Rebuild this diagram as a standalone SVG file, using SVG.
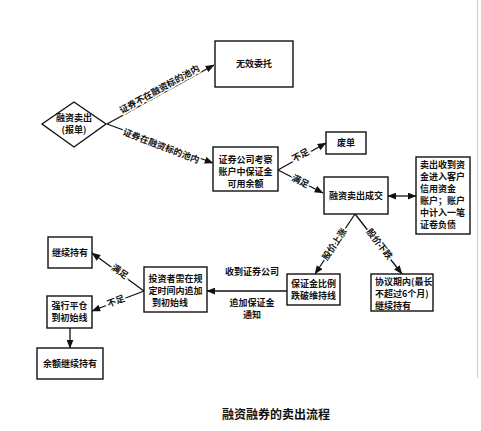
<svg xmlns="http://www.w3.org/2000/svg" width="481" height="431" viewBox="0 0 481 431">
<defs>
<marker id="ah" viewBox="0 0 10 8" refX="9.5" refY="4" markerWidth="9" markerHeight="7" markerUnits="userSpaceOnUse" orient="auto-start-reverse"><path d="M0,0 L10,4 L0,8 z" fill="#111"/></marker>
<style>
.b{fill:#fff;stroke:#111;stroke-width:1.4}
.t{font-family:"Noto Sans CJK SC","Noto Sans CJK TC",sans-serif;font-size:9px;fill:#111;font-weight:bold}
.m{text-anchor:middle}
.c line,.c polyline{stroke:#111;stroke-width:1.3;fill:none}
.lb{font-family:"Noto Sans CJK SC",sans-serif;font-size:9px;fill:#111;font-weight:bold;text-anchor:middle;stroke:#fff;stroke-width:3;paint-order:stroke}
</style>
</defs>
<rect width="481" height="431" fill="#fff"/>
<line x1="477.5" y1="0" x2="477.5" y2="378" stroke="#ccc" stroke-width="1"/>

<g class="c" id="connectors">
<line x1="107" y1="124" x2="214" y2="65" marker-end="url(#ah)"/>
<line x1="107" y1="124" x2="213" y2="163" marker-end="url(#ah)"/>
<line x1="278" y1="170" x2="326" y2="143" marker-end="url(#ah)"/>
<line x1="278" y1="170" x2="323" y2="193" marker-end="url(#ah)"/>
<line x1="388" y1="196" x2="416" y2="196" marker-start="url(#ah)" marker-end="url(#ah)"/>
<line x1="355" y1="214" x2="315" y2="274" marker-end="url(#ah)"/>
<line x1="355" y1="214" x2="402" y2="274" marker-end="url(#ah)"/>
<line x1="287" y1="291" x2="207" y2="291" marker-end="url(#ah)"/>
<line x1="144" y1="291" x2="92" y2="253" marker-end="url(#ah)"/>
<line x1="144" y1="291" x2="92" y2="311" marker-end="url(#ah)"/>
<line x1="70" y1="328" x2="70" y2="348" marker-end="url(#ah)"/>
<text class="lb" transform="translate(161,92) rotate(-29)">证券不在融资标的池内</text>
<text class="lb" transform="translate(160,149) rotate(21)">证券在融资标的池内</text>
<text class="lb" transform="translate(302,158) rotate(-29)">不足</text>
<text class="lb" transform="translate(299,184) rotate(27)">满足</text>
<text class="lb" transform="translate(337,246) rotate(-56)">股价上涨</text>
<text class="lb" transform="translate(377,246) rotate(52)">股价下跌</text>
<text class="lb" transform="translate(118,274) rotate(36)">满足</text>
<text class="lb" transform="translate(117,304) rotate(-21)">不足</text>
<text class="t m" x="252" y="275">收到证券公司</text>
<text class="t m" x="252" y="306">追加保证金</text>
<text class="t m" x="252" y="318">通知</text>
</g>

<g id="n_start">
<polygon class="b" points="42,124 74,102 106,124 74,147"/>
<text class="t m" x="74" y="121">融资卖出</text>
<text class="t m" x="74" y="133">(报单)</text>
</g>
<g id="n_invalid">
<rect class="b" x="215" y="41" width="78" height="46"/>
<text class="t m" x="254" y="67">无效委托</text>
</g>
<g id="n_check">
<rect class="b" x="213" y="147" width="65" height="44"/>
<text class="t m" x="245.5" y="163">证券公司考察</text>
<text class="t m" x="245.5" y="175">账户中保证金</text>
<text class="t m" x="245.5" y="187">可用余额</text>
</g>
<g id="n_void">
<rect class="b" x="326" y="132" width="40" height="22"/>
<text class="t m" x="346" y="146">废单</text>
</g>
<g id="n_deal">
<rect class="b" x="324" y="177" width="64" height="37"/>
<text class="t m" x="356" y="199">融资卖出成交</text>
</g>
<g id="n_fund">
<rect class="b" x="416" y="157" width="54" height="77"/>
<text class="t" x="420" y="168">卖出收到资</text>
<text class="t" x="420" y="180">金进入客户</text>
<text class="t" x="420" y="192">信用资金</text>
<text class="t" x="420" y="204">账户；账户</text>
<text class="t" x="420" y="216">中计入一笔</text>
<text class="t" x="420" y="228">证卷负债</text>
</g>
<g id="n_margin">
<rect class="b" x="287" y="274" width="53" height="31"/>
<text class="t m" x="313.5" y="287">保证金比例</text>
<text class="t m" x="313.5" y="299">跌破维持线</text>
</g>
<g id="n_hold6">
<rect class="b" x="371" y="274" width="62" height="37"/>
<text class="t" x="375" y="285">协议期内(最长</text>
<text class="t" x="375" y="297">不超过6个月)</text>
<text class="t" x="375" y="309">继续持有</text>
</g>
<g id="n_investor">
<rect class="b" x="144" y="267" width="63" height="45"/>
<text class="t m" x="175.5" y="282">投资者需在规</text>
<text class="t m" x="175.5" y="294">定时间内追加</text>
<text class="t" x="152" y="306">到初始线</text>
</g>
<g id="n_keep">
<rect class="b" x="48" y="237" width="44" height="31"/>
<text class="t m" x="70" y="256">继续持有</text>
</g>
<g id="n_force">
<rect class="b" x="47" y="296" width="45" height="32"/>
<text class="t m" x="69.5" y="309">强行平仓</text>
<text class="t m" x="69.5" y="321">到初始线</text>
</g>
<g id="n_rest">
<rect class="b" x="37" y="348" width="66" height="31"/>
<text class="t m" x="70" y="367">余额继续持有</text>
</g>
<text x="276" y="419" text-anchor="middle" font-family="Noto Sans CJK SC, sans-serif" font-size="12" font-weight="bold" fill="#111">融资融券的卖出流程</text>
</svg>
